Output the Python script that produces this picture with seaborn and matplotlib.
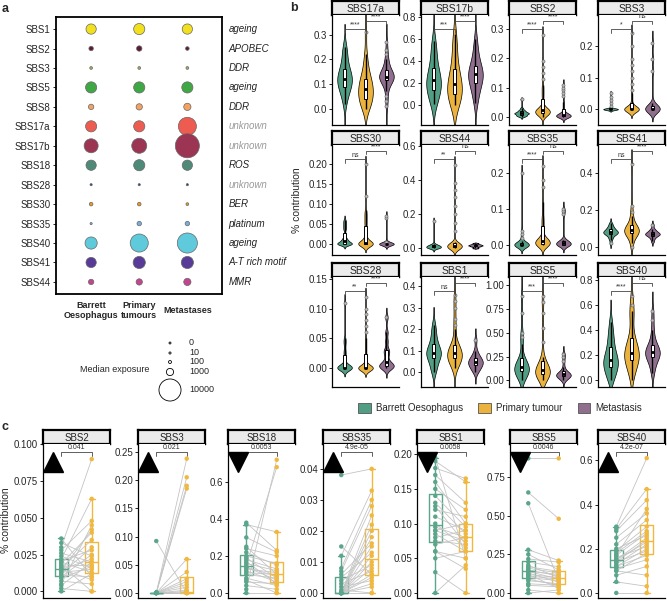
import numpy as np
import pandas as pd
import matplotlib
matplotlib.use('Agg')
import matplotlib.pyplot as plt
import matplotlib.transforms as mtransforms
from matplotlib.patches import Patch
import seaborn as sns

# ---------------- panel a data ----------------
signatures = ['SBS1', 'SBS2', 'SBS3', 'SBS5', 'SBS8', 'SBS17a', 'SBS17b', 'SBS18',
              'SBS28', 'SBS30', 'SBS35', 'SBS40', 'SBS41', 'SBS44']
aetiology = ['ageing', 'APOBEC', 'DDR', 'ageing', 'DDR', 'unknown', 'unknown', 'ROS',
             'unknown', 'BER', 'platinum', 'ageing', 'A-T rich motif', 'MMR']
stages_a = ['Barrett\nOesophagus', 'Primary\ntumours', 'Metastases']
exp_barrett = [2100, 330, 80, 2500, 520, 2500, 4000, 2100, 20, 190, 20, 3000, 2100, 520]
exp_primary = [2500, 520, 80, 2500, 740, 2500, 4600, 2500, 20, 190, 330, 6700, 3000, 740]
exp_metastases = [2100, 190, 80, 2500, 1000, 6700, 11900, 2100, 20, 80, 330, 8300, 3000, 1000]
sig_colours = ['#F2E01E', '#5C1A33', '#9DB060', '#3FA845', '#F4A262', '#EE5B50', '#9B3553',
               '#4F8A79', '#27477A', '#E89B1C', '#79AED8', '#5ECADB', '#583A98', '#C4448F']
size_legend = [0, 10, 100, 1000, 10000]

# ---------------- panel b data ----------------
groups_b = ['Barrett Oesophagus', 'Primary tumour', 'Metastasis']
group_colours = ['#519E85', '#EBB33E', '#8F6E8E']
b_order = ['SBS17a', 'SBS17b', 'SBS2', 'SBS3', 'SBS30', 'SBS44', 'SBS35', 'SBS41',
           'SBS28', 'SBS1', 'SBS5', 'SBS40']
b_stars_bp = ['****', '***', '****', '*', 'ns', '**', '****', 'ns', '**', 'ns', '***', '****']
b_stars_pm = ['****', '****', '****', 'ns', '****', 'ns', 'ns', '****', '****', '****', '****', 'ns']

b_SBS17a = ([0.02, 0.05, 0.07, 0.08, 0.09, 0.10, 0.11, 0.12, 0.12, 0.13, 0.14, 0.15, 0.16, 0.18, 0.20, 0.23, 0.25],
            [0.0, 0.01, 0.02, 0.03, 0.04, 0.04, 0.05, 0.06, 0.07, 0.08, 0.08, 0.09, 0.10, 0.11, 0.12, 0.12, 0.14,
             0.16, 0.19, 0.22, 0.31],
            [0.115, 0.12, 0.12, 0.122, 0.125, 0.127, 0.13, 0.13, 0.13, 0.132, 0.135, 0.137, 0.14, 0.14, 0.145,
             0.11, 0.15, 0.1, 0.16, 0.09, 0.17, 0.18, 0.19, 0.2, 0.22, 0.24, 0.27, 0.07, 0.05, 0.03, 0.01])
b_SBS17b = ([0.01, 0.05, 0.09, 0.12, 0.15, 0.17, 0.20, 0.22, 0.23, 0.26, 0.29, 0.33, 0.38, 0.45, 0.52, 0.58],
            [0.0, 0.02, 0.05, 0.08, 0.10, 0.13, 0.15, 0.17, 0.19, 0.22, 0.25, 0.28, 0.33, 0.40, 0.48, 0.56, 0.65],
            [0.02, 0.08, 0.13, 0.17, 0.20, 0.23, 0.25, 0.27, 0.28, 0.29, 0.31, 0.33, 0.36, 0.40, 0.45, 0.52, 0.60])
b_SBS2 = ([0.0, 0.002, 0.004, 0.005, 0.006, 0.008, 0.01, 0.011, 0.012, 0.012, 0.013, 0.015, 0.016, 0.018,
           0.02, 0.022, 0.025, 0.03, 0.06],
          [0.0, 0.003, 0.005, 0.007, 0.008, 0.009, 0.01, 0.011, 0.012, 0.013, 0.014, 0.015, 0.016, 0.017,
           0.018, 0.018, 0.019, 0.02, 0.02, 0.021, 0.022, 0.023, 0.024, 0.025, 0.026, 0.028, 0.03, 0.032,
           0.035, 0.04, 0.06, 0.07, 0.08, 0.09, 0.1, 0.11, 0.13, 0.15, 0.17, 0.19, 0.28],
          [0.0, 0.0, 0.0, 0.0, 0.001, 0.001, 0.002, 0.002, 0.003, 0.003, 0.004, 0.005, 0.006, 0.007, 0.008,
           0.009, 0.01, 0.012, 0.015, 0.02, 0.035, 0.05, 0.07, 0.08, 0.09, 0.1, 0.11])
b_SBS3 = ([0.0] * 14 + [0.001, 0.003, 0.01, 0.02, 0.03, 0.04, 0.05],
          [0.0] * 30 + [0.002, 0.005, 0.01, 0.02, 0.03, 0.04, 0.05, 0.06, 0.08, 0.1, 0.12, 0.14, 0.16, 0.2, 0.24],
          [0.0] * 10 + [0.001, 0.005, 0.01, 0.02, 0.12, 0.16, 0.21])
b_SBS30 = ([0.0] * 8 + [0.002, 0.004, 0.005, 0.007, 0.008, 0.01, 0.012, 0.015, 0.02,
                        0.035, 0.04, 0.045, 0.05, 0.055, 0.06],
           [0.0] * 20 + [0.002, 0.004, 0.006, 0.008, 0.01, 0.012, 0.015, 0.02, 0.025,
                         0.04, 0.045, 0.05, 0.055, 0.06, 0.065, 0.07, 0.075, 0.08, 0.085, 0.12, 0.2],
           [0.0] * 14 + [0.001, 0.003, 0.005, 0.065, 0.07])
b_SBS44 = ([0.0, 0.0, 0.002, 0.004, 0.005, 0.006, 0.008, 0.01, 0.012, 0.014, 0.015, 0.018, 0.02, 0.025, 0.16],
           [0.0] * 4 + [0.002, 0.003, 0.004, 0.005, 0.006, 0.007, 0.008, 0.009, 0.01, 0.01, 0.011, 0.012,
                        0.012, 0.013, 0.014, 0.015, 0.016, 0.017, 0.018, 0.019, 0.02, 0.021, 0.022, 0.024,
                        0.026, 0.028, 0.03, 0.035, 0.1, 0.15, 0.2, 0.25, 0.3, 0.34, 0.38, 0.49],
           [0.0, 0.005, 0.01, 0.012, 0.015, 0.016, 0.018, 0.02, 0.022, 0.025, 0.03])
b_SBS35 = ([0.0] * 14 + [0.001, 0.002, 0.003, 0.005, 0.01, 0.02, 0.03, 0.04, 0.2],
           [0.0] * 6 + [0.002, 0.003, 0.004, 0.005, 0.006, 0.007, 0.008, 0.009, 0.01, 0.011, 0.012, 0.014,
                        0.016, 0.018, 0.02, 0.022, 0.04, 0.05, 0.06, 0.07, 0.08, 0.1, 0.12, 0.16, 0.18, 0.22],
           [0.0] * 4 + [0.001, 0.002, 0.003, 0.004, 0.005, 0.006, 0.008, 0.01, 0.012, 0.015, 0.085, 0.095, 0.1])
b_SBS41 = ([0.02, 0.04, 0.05, 0.06, 0.065, 0.07, 0.072, 0.075, 0.078, 0.08, 0.082, 0.085, 0.088, 0.09,
            0.095, 0.1, 0.105, 0.11, 0.12, 0.13],
           [0.0, 0.02, 0.04, 0.055, 0.065, 0.07, 0.075, 0.078, 0.08, 0.082, 0.085, 0.088, 0.09, 0.092, 0.095,
            0.1, 0.105, 0.11, 0.115, 0.12, 0.13, 0.15, 0.17, 0.19, 0.22, 0.45],
           [0.03, 0.045, 0.055, 0.06, 0.065, 0.068, 0.07, 0.072, 0.075, 0.08, 0.085, 0.09, 0.1, 0.12])
b_SBS28 = ([0.0] * 12 + [0.001, 0.002, 0.003, 0.005, 0.008, 0.02, 0.025, 0.03, 0.04, 0.045, 0.05, 0.11],
           [0.0] * 30 + [0.005, 0.01, 0.015, 0.02, 0.025, 0.03, 0.035, 0.04, 0.045, 0.05, 0.06, 0.07, 0.08,
                         0.09, 0.1, 0.12],
           [0.0, 0.001, 0.002, 0.004, 0.005, 0.006, 0.01, 0.02, 0.028, 0.03, 0.045, 0.06, 0.085])
b_SBS1 = ([0.0, 0.02, 0.04, 0.06, 0.07, 0.08, 0.085, 0.09, 0.1, 0.11, 0.12, 0.14, 0.16, 0.19, 0.22],
          [0.02, 0.03, 0.04, 0.045, 0.05, 0.055, 0.06, 0.065, 0.07, 0.072, 0.075, 0.078, 0.08, 0.082, 0.085,
           0.09, 0.095, 0.1, 0.105, 0.11, 0.115, 0.12, 0.13, 0.14, 0.2, 0.22, 0.25, 0.3, 0.33, 0.36],
          [0.0, 0.01, 0.02, 0.03, 0.035, 0.04, 0.045, 0.05, 0.055, 0.06, 0.07, 0.08, 0.1, 0.15])
b_SBS5 = ([0.0, 0.03, 0.05, 0.07, 0.08, 0.09, 0.1, 0.11, 0.12, 0.13, 0.13, 0.14, 0.15, 0.16, 0.18, 0.2,
           0.22, 0.25, 0.38, 0.45, 0.5, 0.7, 0.88],
          [0.0, 0.02, 0.03, 0.04, 0.05, 0.055, 0.06, 0.07, 0.08, 0.085, 0.09, 0.09, 0.1, 0.1, 0.11, 0.12,
           0.12, 0.13, 0.14, 0.15, 0.17, 0.2, 0.22, 0.25, 0.4, 0.55, 0.7, 0.82, 0.88],
          [0.0, 0.02, 0.03, 0.04, 0.045, 0.05, 0.055, 0.06, 0.065, 0.07, 0.08, 0.09, 0.1, 0.14, 0.2, 0.25, 0.28])
b_SBS40 = ([0.0, 0.03, 0.06, 0.09, 0.11, 0.13, 0.14, 0.16, 0.18, 0.2, 0.24, 0.28, 0.33, 0.38, 0.46],
           [0.0, 0.05, 0.08, 0.1, 0.12, 0.13, 0.15, 0.17, 0.18, 0.19, 0.2, 0.2, 0.21, 0.22, 0.24, 0.26, 0.27,
            0.29, 0.31, 0.34, 0.38, 0.48, 0.52, 0.55, 0.6, 0.67],
           [0.05, 0.08, 0.12, 0.15, 0.17, 0.18, 0.19, 0.2, 0.21, 0.21, 0.22, 0.23, 0.24, 0.25, 0.26, 0.28,
            0.3, 0.35, 0.4, 0.48, 0.55])

# ---------------- panel c data (paired Barrett -> primary) ----------------
c_order = ['SBS2', 'SBS3', 'SBS18', 'SBS35', 'SBS1', 'SBS5', 'SBS40']
c_pvalues = ['0.041', '0.021', '0.0053', '4.9e-05', '0.0058', '0.0046', '4.2e-07']
c_direction = ['up', 'up', 'down', 'up', 'down', 'down', 'up']
c_SBS2_barrett = [0.0, 0.002, 0.004, 0.005, 0.007, 0.009, 0.01, 0.011, 0.012, 0.013, 0.014, 0.015, 0.015,
                  0.016, 0.017, 0.018, 0.019, 0.02, 0.021, 0.022, 0.024, 0.026, 0.028, 0.03, 0.033, 0.036]
c_SBS2_primary = [0.012, 0.0, 0.02, 0.045, 0.005, 0.017, 0.025, 0.01, 0.03, 0.015, 0.042, 0.008, 0.022,
                  0.035, 0.018, 0.0, 0.04, 0.013, 0.028, 0.063, 0.016, 0.02, 0.048, 0.09, 0.024, 0.01]
c_SBS3_barrett = [0, 0, 0, 0, 0, 0, 0, 0, 0, 0, 0, 0, 0, 0, 0, 0, 0, 0, 0, 0, 0, 0.092, 0, 0]
c_SBS3_primary = [0, 0, 0, 0, 0, 0, 0, 0, 0, 0, 0.002, 0.005, 0.01, 0.015, 0.02, 0.025, 0.037, 0.06,
                  0.185, 0.19, 0.205, 0, 0.238, 0.002]
c_SBS18_barrett = [0.0, 0.02, 0.04, 0.06, 0.07, 0.08, 0.1, 0.11, 0.12, 0.13, 0.14, 0.14, 0.15, 0.16,
                   0.17, 0.18, 0.19, 0.2, 0.22, 0.24, 0.25, 0.3, 0.37, 0.38]
c_SBS18_primary = [0.0, 0.72, 0.02, 0.05, 0.0, 0.04, 0.08, 0.1, 0.06, 0.11, 0.07, 0.09, 0.68, 0.12,
                   0.05, 0.13, 0.08, 0.16, 0.15, 0.2, 0.1, 0.22, 0.33, 0.23]
c_SBS35_barrett = [0, 0, 0, 0, 0, 0, 0, 0, 0, 0, 0, 0, 0.001, 0.002, 0.003, 0.004, 0.005, 0.006,
                   0.007, 0.008, 0.012, 0.015, 0.038, 0]
c_SBS35_primary = [0.0, 0.003, 0.005, 0.006, 0.008, 0.01, 0.012, 0.015, 0.018, 0.02, 0.022, 0.025,
                   0.0, 0.004, 0.007, 0.009, 0.013, 0.016, 0.028, 0.03, 0.033, 0.006, 0.04, 0.002]
c_SBS1_barrett = [0.0, 0.03, 0.05, 0.06, 0.07, 0.075, 0.08, 0.085, 0.09, 0.09, 0.095, 0.1, 0.11, 0.12,
                  0.125, 0.13, 0.14, 0.15, 0.16, 0.17, 0.18, 0.19, 0.195, 0.06]
c_SBS1_primary = [0.04, 0.0, 0.06, 0.05, 0.08, 0.07, 0.09, 0.06, 0.075, 0.1, 0.08, 0.065, 0.09, 0.11,
                  0.07, 0.085, 0.095, 0.12, 0.1, 0.13, 0.165, 0.16, 0.05, 0.035]
c_SBS5_barrett = [0.0, 0.02, 0.05, 0.08, 0.09, 0.1, 0.11, 0.12, 0.13, 0.14, 0.14, 0.15, 0.16, 0.17,
                  0.18, 0.2, 0.22, 0.25, 0.28, 0.58, 0.65, 0.87, 0.12, 0.06]
c_SBS5_primary = [0.02, 0.0, 0.04, 0.06, 0.05, 0.08, 0.09, 0.1, 0.07, 0.12, 0.09, 0.11, 0.13, 0.14,
                  0.1, 0.17, 0.2, 0.15, 0.21, 0.08, 0.48, 0.87, 0.03, 0.05]
c_SBS40_barrett = [0.0, 0.05, 0.08, 0.1, 0.11, 0.12, 0.13, 0.14, 0.15, 0.15, 0.16, 0.17, 0.18, 0.19,
                   0.2, 0.22, 0.25, 0.28, 0.29, 0.3, 0.12, 0.14, 0.17, 0.1]
c_SBS40_primary = [0.0, 0.03, 0.12, 0.18, 0.15, 0.2, 0.22, 0.19, 0.23, 0.25, 0.21, 0.27, 0.28, 0.3,
                   0.26, 0.33, 0.36, 0.42, 0.47, 0.61, 0.17, 0.24, 0.38, 0.08]
c_colours = ['#5BA58A', '#F0B840']

# ---------------- figure ----------------
sns.set_theme(style='white')
plt.rcParams['font.family'] = ['Liberation Sans', 'DejaVu Sans']

W, H = 667, 601
fig = plt.figure(figsize=(W / 100, H / 100), dpi=100)


def px(x0, y0, x1, y1):
    return [x0 / W, 1 - y1 / H, (x1 - x0) / W, (y1 - y0) / H]


def strip(x0, x1, y0, y1, label, fs=7.5):
    sax = fig.add_axes(px(x0, y0, x1, y1))
    sax.set_facecolor('#EBEBEB')
    sax.set_xticks([])
    sax.set_yticks([])
    for s in sax.spines.values():
        s.set_visible(True)
        s.set_linewidth(1.6)
        s.set_color('black')
    sax.text(0.5, 0.45, label, ha='center', va='center', fontsize=fs, transform=sax.transAxes)


def style(ax, ticks, fmt):
    for s in ['top', 'right']:
        ax.spines[s].set_visible(False)
    for s in ['left', 'bottom']:
        ax.spines[s].set_visible(True)
        ax.spines[s].set_color('black')
        ax.spines[s].set_linewidth(0.9)
    ax.set_yticks(ticks)
    ax.set_yticklabels([fmt.format(t) for t in ticks])
    ax.tick_params(axis='y', left=True, length=2, width=0.6, labelsize=7, pad=1.5, color='black')
    ax.tick_params(axis='x', bottom=False, labelbottom=False, length=0)
    ax.set_xlabel('')
    ax.set_ylabel('')
    ax.grid(False)
    ax.set_facecolor('white')


def bracket(ax, x0, x1, yf, label, fs=5, tip=0.03):
    trans = mtransforms.blended_transform_factory(ax.transData, ax.transAxes)
    ax.plot([x0, x0, x1, x1], [yf - tip, yf, yf, yf - tip], color='#444444', lw=0.6,
            transform=trans, clip_on=False)
    ax.text((x0 + x1) / 2, yf + 0.004, label, ha='center', va='bottom', fontsize=fs,
            transform=trans, color='#333333')


# ---- panel a ----
axa = fig.add_axes(px(56, 17, 222, 294))
dfa = pd.DataFrame({
    'signature': signatures * 3,
    'stage': [stages_a[0]] * 14 + [stages_a[1]] * 14 + [stages_a[2]] * 14,
    'exposure': exp_barrett + exp_primary + exp_metastases,
})
sns.scatterplot(data=dfa, x='stage', y='signature', hue='signature', palette=dict(zip(signatures, sig_colours)),
                size='exposure', sizes=(2, 302), size_norm=(0, 12000), edgecolor='#666666',
                linewidth=0.5, legend=False, ax=axa)
axa.set_xlim(-0.73, 2.72)
axa.set_ylim(13.62, -0.62)
axa.set_xlabel('')
axa.set_ylabel('')
for s in axa.spines.values():
    s.set_visible(True)
    s.set_color('black')
    s.set_linewidth(1.3)
axa.tick_params(axis='y', left=True, length=2, width=0.6, labelsize=7, pad=2, color='black')
axa.tick_params(axis='x', bottom=False, length=0, labelsize=6.5, pad=12)
for lab in axa.get_xticklabels():
    lab.set_fontweight('bold')
    lab.set_va('center')
axa.grid(False)
trans_a = mtransforms.blended_transform_factory(axa.transAxes, axa.transData)
for i, txt in enumerate(aetiology):
    axa.text(1.04, i, txt, transform=trans_a, fontsize=7, style='italic', va='center', ha='left',
             color='#9A9A9A' if txt == 'unknown' else '#222222', clip_on=False)

# size legend
axl = fig.add_axes(px(150, 336, 220, 402))
axl.set_xlim(150, 220)
axl.set_ylim(402, 336)
axl.axis('off')
leg_y = [343, 353, 362, 372, 390]
axl.scatter([170] * 5, leg_y, s=[2 + 300 * v / 12000 for v in size_legend], facecolor='white',
            edgecolor='black', linewidth=0.6, clip_on=False)
for v, y in zip(size_legend, leg_y):
    axl.text(189, y, str(v), fontsize=6.5, va='center', ha='left')
fig.text(80 / W, 1 - 370 / H, 'Median exposure', fontsize=6.5, va='center', ha='left')

# ---- panel b ----
b_data = {'SBS17a': b_SBS17a, 'SBS17b': b_SBS17b, 'SBS2': b_SBS2, 'SBS3': b_SBS3,
          'SBS30': b_SBS30, 'SBS44': b_SBS44, 'SBS35': b_SBS35, 'SBS41': b_SBS41,
          'SBS28': b_SBS28, 'SBS1': b_SBS1, 'SBS5': b_SBS5, 'SBS40': b_SBS40}
b_ylim = {'SBS17a': (-0.066, 0.38), 'SBS17b': (-0.18, 0.82), 'SBS2': (-0.028, 0.348),
          'SBS3': (-0.05, 0.298), 'SBS30': (-0.0275, 0.2475), 'SBS44': (-0.04, 0.606),
          'SBS35': (-0.028, 0.278), 'SBS41': (-0.043, 0.551), 'SBS28': (-0.032, 0.153),
          'SBS1': (-0.07, 0.444), 'SBS5': (-0.068, 1.08), 'SBS40': (-0.06, 0.824)}
b_ticks = {'SBS17a': ([0, 0.1, 0.2, 0.3], '{:.1f}'), 'SBS17b': ([0, 0.2, 0.4, 0.6, 0.8], '{:.1f}'),
           'SBS2': ([0, 0.1, 0.2, 0.3], '{:.1f}'), 'SBS3': ([0, 0.1, 0.2], '{:.1f}'),
           'SBS30': ([0, 0.05, 0.1, 0.15, 0.2], '{:.2f}'), 'SBS44': ([0, 0.2, 0.4, 0.6], '{:.1f}'),
           'SBS35': ([0, 0.1, 0.2], '{:.1f}'), 'SBS41': ([0, 0.2, 0.4], '{:.1f}'),
           'SBS28': ([0, 0.05, 0.1, 0.15], '{:.2f}'), 'SBS1': ([0, 0.1, 0.2, 0.3, 0.4], '{:.1f}'),
           'SBS5': ([0, 0.25, 0.5, 0.75, 1.0], '{:.2f}'), 'SBS40': ([0, 0.2, 0.4, 0.6, 0.8], '{:.1f}')}
# heavy-tailed signatures get a narrower kernel, like R's nrd0 bandwidth
b_bw = {'SBS17a': 0.9, 'SBS17b': 1.0, 'SBS2': 0.35, 'SBS3': 0.35, 'SBS30': 0.35, 'SBS44': 0.3,
        'SBS35': 0.35, 'SBS41': 0.6, 'SBS28': 0.35, 'SBS1': 0.8, 'SBS5': 0.6, 'SBS40': 0.8}
col_x = [332, 421, 509, 598]
row_y = [1, 131, 263]
for k, sig in enumerate(b_order):
    r, c = divmod(k, 4)
    x0, y0 = col_x[c], row_y[r]
    strip(x0, x0 + 67, y0, y0 + 14, sig)
    ax = fig.add_axes(px(x0, y0 + 14, x0 + 67, y0 + 124))
    vals = b_data[sig]
    d = pd.DataFrame({'group': [groups_b[0]] * len(vals[0]) + [groups_b[1]] * len(vals[1]) + [groups_b[2]] * len(vals[2]),
                      'value': list(vals[0]) + list(vals[1]) + list(vals[2])})
    sns.violinplot(data=d, x='group', y='value', hue='group', order=groups_b, hue_order=groups_b,
                   palette=group_colours, inner=None, linewidth=0.5, linecolor='black', cut=3,
                   bw_adjust=b_bw[sig], width=0.7, density_norm='area', saturation=1, legend=False, ax=ax)
    sns.boxplot(data=d, x='group', y='value', order=groups_b, width=0.17, color='white',
                linecolor='black', linewidth=0.7, saturation=1, fliersize=2.2,
                flierprops=dict(marker='o', markerfacecolor='#BDBDBD', markeredgecolor='#6E6E6E',
                                markeredgewidth=0.5),
                medianprops=dict(linewidth=2.0, color='black'), whiskerprops=dict(linewidth=1.0),
                capprops=dict(linewidth=0), ax=ax)
    ax.set_xlim(-0.6, 2.6)
    ax.set_ylim(*b_ylim[sig])
    style(ax, *b_ticks[sig])
    bracket(ax, 0, 1, 0.87, b_stars_bp[k])
    bracket(ax, 1, 2, 0.95, b_stars_pm[k])

fig.text(297 / W, 1 - 200 / H, '% contribution', rotation=90, fontsize=7.5, va='center', ha='center')

handles = [Patch(facecolor=col, edgecolor='#555555', linewidth=0.6) for col in group_colours]
fig.legend(handles, groups_b, loc='center', bbox_to_anchor=(500 / W, 1 - 408 / H), ncol=3,
           frameon=False, fontsize=7, handlelength=1.3, handleheight=1.3, columnspacing=1.6,
           handletextpad=0.5)

# ---- panel c ----
c_data = {'SBS2': (c_SBS2_barrett, c_SBS2_primary), 'SBS3': (c_SBS3_barrett, c_SBS3_primary),
          'SBS18': (c_SBS18_barrett, c_SBS18_primary), 'SBS35': (c_SBS35_barrett, c_SBS35_primary),
          'SBS1': (c_SBS1_barrett, c_SBS1_primary), 'SBS5': (c_SBS5_barrett, c_SBS5_primary),
          'SBS40': (c_SBS40_barrett, c_SBS40_primary)}
c_ylim = {'SBS2': (-0.0045, 0.1003), 'SBS3': (-0.009, 0.264), 'SBS18': (-0.027, 0.805),
          'SBS35': (-0.0016, 0.048), 'SBS1': (-0.0072, 0.2147), 'SBS5': (-0.032, 0.963),
          'SBS40': (-0.023, 0.674)}
c_ticks = {'SBS2': ([0, 0.025, 0.05, 0.075, 0.1], '{:.3f}'), 'SBS3': ([0, 0.05, 0.1, 0.15, 0.2, 0.25], '{:.2f}'),
           'SBS18': ([0, 0.2, 0.4, 0.6], '{:.1f}'), 'SBS35': ([0, 0.01, 0.02, 0.03, 0.04], '{:.2f}'),
           'SBS1': ([0, 0.05, 0.1, 0.15, 0.2], '{:.2f}'), 'SBS5': ([0, 0.25, 0.5, 0.75], '{:.2f}'),
           'SBS40': ([0, 0.2, 0.4, 0.6], '{:.1f}')}
c_x = [43, 138, 228, 323, 417, 510, 598]
for k, sig in enumerate(c_order):
    x0 = c_x[k]
    strip(x0, x0 + 67, 430, 444, sig, fs=7)
    ax = fig.add_axes(px(x0, 444, x0 + 67, 598))
    bv, pv = c_data[sig]
    n = len(bv)
    d = pd.DataFrame({'group': ['Barrett'] * n + ['Primary'] * n,
                      'value': list(bv) + list(pv),
                      'pair': list(range(n)) * 2})
    sns.boxplot(data=d, x='group', y='value', hue='group', order=['Barrett', 'Primary'],
                palette=c_colours, fill=False, width=0.42, linewidth=1.0, showfliers=False,
                legend=False, ax=ax)
    sns.lineplot(data=d, x='group', y='value', units='pair', estimator=None, color='#C4C4C4',
                 linewidth=0.6, legend=False, ax=ax)
    sns.stripplot(data=d, x='group', y='value', hue='group', order=['Barrett', 'Primary'],
                  palette=c_colours, jitter=False, size=3.2, legend=False, ax=ax, zorder=3)
    ax.set_xlim(-0.6, 1.6)
    ax.set_ylim(*c_ylim[sig])
    style(ax, *c_ticks[sig])
    bracket(ax, 0, 1, 0.95, c_pvalues[k], fs=5, tip=0.03)
    ax.plot([0.15], [0.88], marker='^' if c_direction[k] == 'up' else 'v', markersize=15,
            color='black', transform=ax.transAxes, clip_on=False, zorder=5)

fig.text(6 / W, 1 - 520 / H, '% contribution', rotation=90, fontsize=7.5, va='center', ha='center')

# panel letters
fig.text(2 / W, 1 - 9 / H, 'a', fontsize=9, fontweight='bold', va='center', ha='left')
fig.text(290 / W, 1 - 8 / H, 'b', fontsize=9, fontweight='bold', va='center', ha='left')
fig.text(2 / W, 1 - 427 / H, 'c', fontsize=9, fontweight='bold', va='center', ha='left')

fig.savefig('out.png', dpi=100)
